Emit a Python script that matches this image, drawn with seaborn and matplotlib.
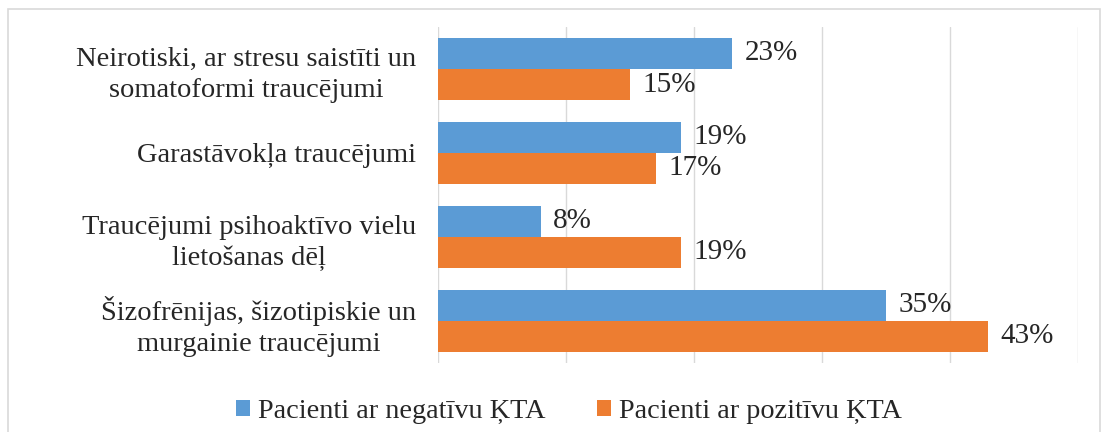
import numpy as np
import pandas as pd
import matplotlib.pyplot as plt
import seaborn as sns
from matplotlib.patches import Rectangle

categories = ["Neirotiski, ar stresu saistīti un\nsomatoformi traucējumi",
              "Garastāvokļa traucējumi",
              "Traucējumi psihoaktīvo vielu\nlietošanas dēļ",
              "Šizofrēnijas, šizotipiskie un\nmurgainie traucējumi"]
series = ["Pacienti ar negatīvu ĶTA", "Pacienti ar pozitīvu ĶTA"]
negativ = [23, 19, 8, 35]
pozitiv = [15, 17, 19, 43]
colors = ["#5B9BD5", "#ED7D31"]

df = pd.DataFrame({
    "kategorija": categories * 2,
    "grupa": [series[0]] * 4 + [series[1]] * 4,
    "vertiba": negativ + pozitiv,
})

sns.set_style("white")
plt.rcParams["font.family"] = ["Liberation Serif", "DejaVu Serif"]

fig = plt.figure(figsize=(11.04, 4.32), dpi=100)
ax = fig.add_axes([0.397, 0.16, 0.579, 0.7775])

sns.barplot(data=df, y="kategorija", x="vertiba", hue="grupa", orient="h",
            palette=colors, width=0.74, saturation=1, linewidth=0, ax=ax)

# datu etiketes
for cont in ax.containers:
    ax.bar_label(cont, labels=[f"{int(v)}%" for v in cont.datavalues],
                 padding=9, fontsize=21)

ax.set_xlim(0, 50)
ax.set_xticks(np.arange(0, 51, 10))
ax.set_xticklabels([])
ax.tick_params(axis="x", length=0)
ax.tick_params(axis="y", length=0, labelsize=20.5, pad=16)
for t in ax.get_yticklabels():
    t.set_multialignment("center")
    t.set_linespacing(1.3)
ax.grid(axis="x", color="#D9D9D9", linewidth=1)
ax.set_axisbelow(True)
for s in ax.spines.values():
    s.set_visible(False)
ax.set_xlabel("")
ax.set_ylabel("")

leg = ax.legend(loc="upper center", ncol=2, frameon=False, fontsize=20.3,
                handlelength=0.5, handleheight=0.5, handletextpad=0.3,
                columnspacing=1.8,
                bbox_to_anchor=(569 / 1104, 0.135), bbox_transform=fig.transFigure)

fig.patches.append(Rectangle((8 / 1104, -0.01), 1092 / 1104, 1 - 9 / 432 + 0.01,
                             transform=fig.transFigure, fill=False,
                             edgecolor="#D9D9D9", linewidth=1.2))

fig.savefig("out.png", dpi=100)
